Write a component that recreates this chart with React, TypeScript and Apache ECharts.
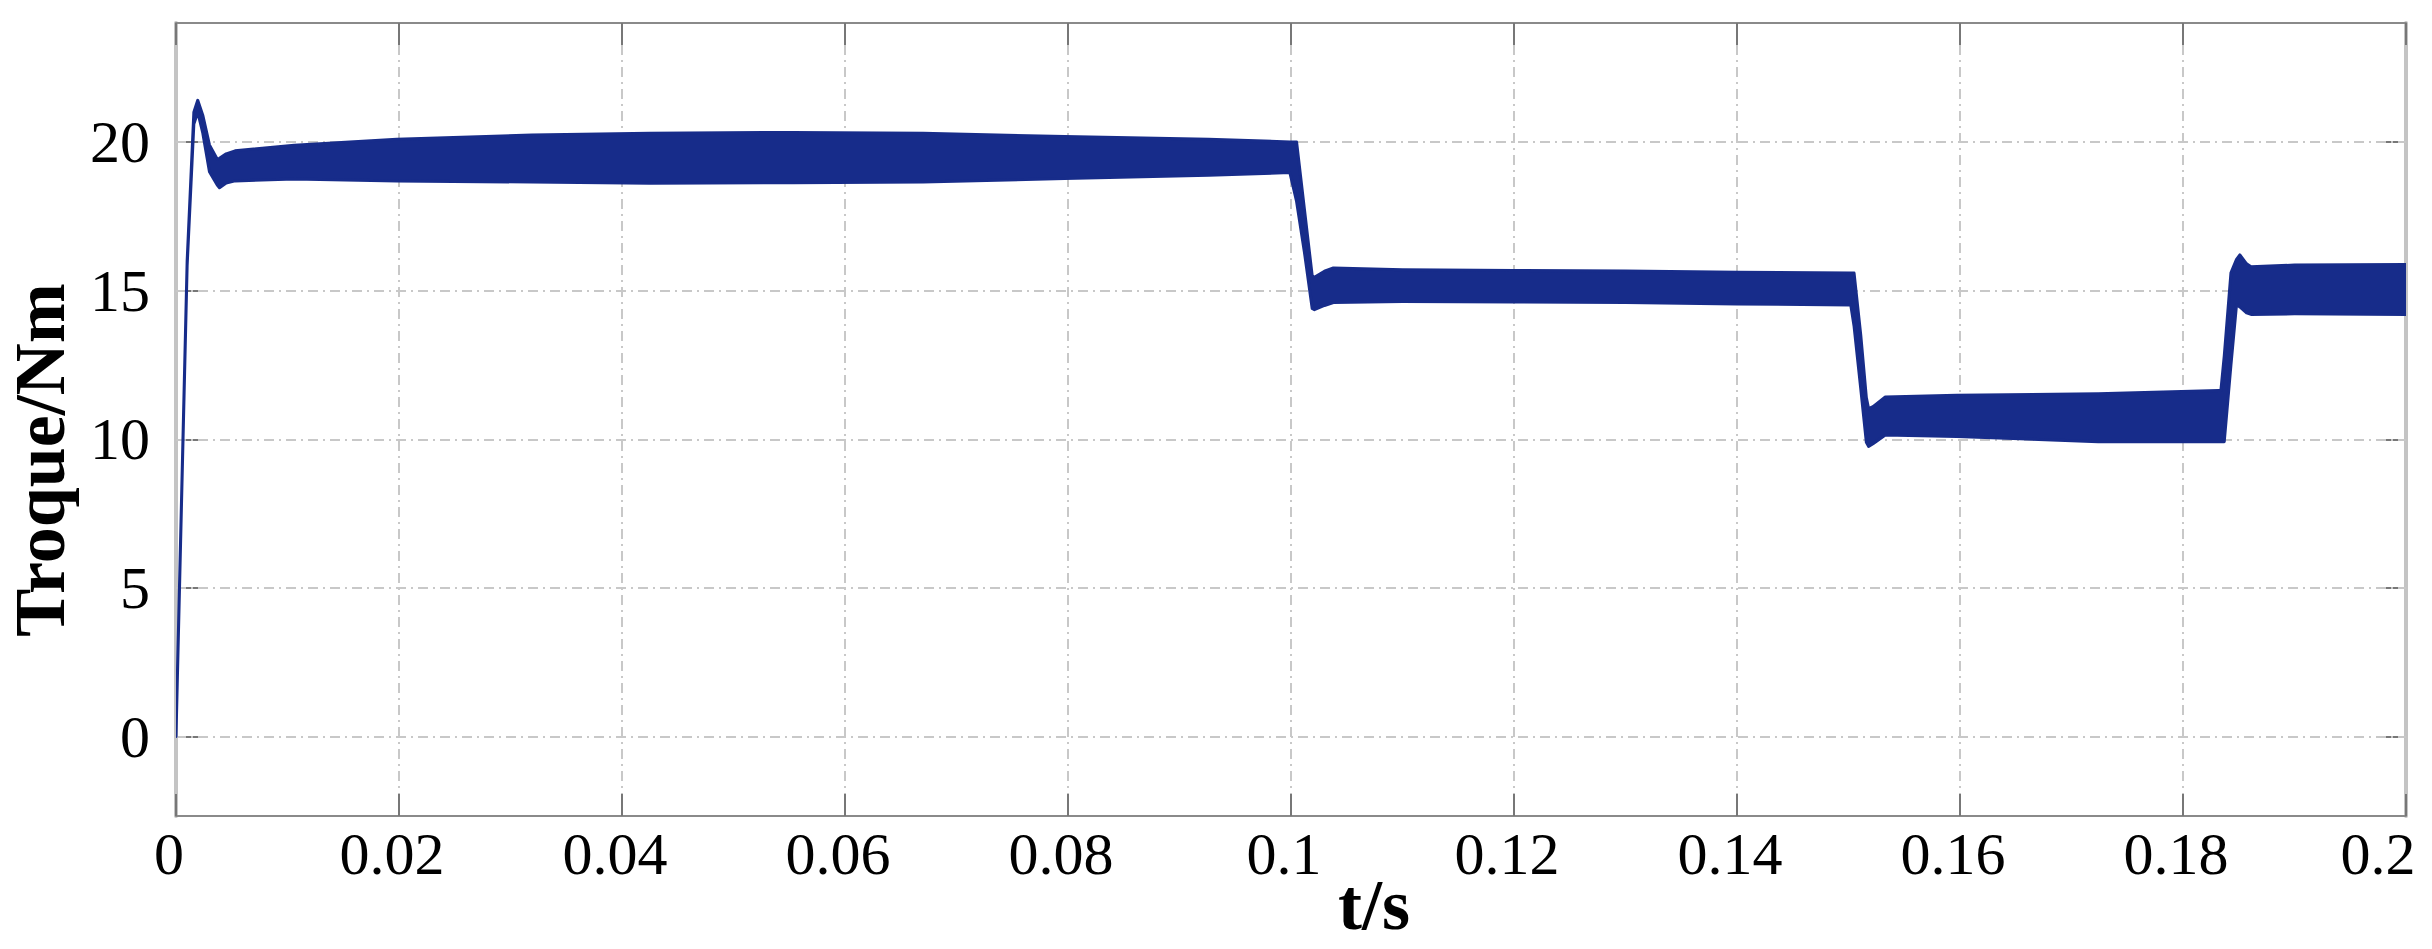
import React, { useEffect, useRef } from "react";
import * as echarts from "echarts";

// time (s)
const T = [
  0, 0.001, 0.0016, 0.00195, 0.0024, 0.003, 0.0037, 0.0039, 0.0045, 0.0053,
  0.0106, 0.0198, 0.0319, 0.0425, 0.0553, 0.067, 0.0797, 0.0926, 0.0999,
  0.1005, 0.1012, 0.1019, 0.1021, 0.103, 0.1038, 0.11, 0.12, 0.13, 0.14, 0.1502,
  0.1505, 0.1511, 0.1516, 0.1518, 0.1522, 0.1533, 0.1597, 0.1724, 0.1832,
  0.1834, 0.1837, 0.1843, 0.1848, 0.1851, 0.1857, 0.1861, 0.19, 0.2,
];
// upper envelope of the torque ripple band (Nm)
const UPPER = [
  0.1, 16.0, 21.0, 21.4, 20.9, 19.9, 19.42, 19.45, 19.6, 19.7,
  19.89, 20.09, 20.23, 20.29, 20.32, 20.29, 20.18, 20.09, 20.0,
  20.0, 17.75, 15.5, 15.45, 15.65, 15.76, 15.7, 15.68, 15.66, 15.62, 15.59,
  15.59, 13.5, 11.4, 11.03, 11.1, 11.42, 11.48, 11.53, 11.64,
  11.64, 12.8, 15.6, 16.05, 16.2, 15.9, 15.8, 15.86, 15.88,
];
// lower envelope of the torque ripple band (Nm)
const LOWER = [
  0, 15.85, 20.6, 21.0, 20.3, 19.0, 18.55, 18.46, 18.62, 18.69,
  18.75, 18.69, 18.65, 18.61, 18.63, 18.65, 18.77, 18.88, 18.97,
  18.0, 16.3, 14.4, 14.36, 14.5, 14.6, 14.63, 14.62, 14.6, 14.55, 14.52,
  13.8, 11.7, 9.9, 9.76, 9.85, 10.14, 10.09, 9.92, 9.92,
  9.92, 9.92, 12.5, 14.53, 14.45, 14.25, 14.2, 14.22, 14.2,
];

const X_TICKS_INTERVAL = 0.02;
const Y_TICKS = [0, 5, 10, 15, 20];
const X_NAME = "t/s";
const Y_NAME = "Troque/Nm";

const BLUE = "#172C8A";
const FONT = "'Liberation Serif', 'Times New Roman', serif";

export default function App() {
  const ref = useRef<HTMLDivElement>(null);

  useEffect(() => {
    if (!ref.current) return;
    const chart = echarts.init(ref.current, undefined, { renderer: "svg" });

    const bandData = T.map((t, i) => [t, UPPER[i], LOWER[i]]);
    const gridDash = [10, 5, 2, 5];

    const renderBand = (params: any, api: any) => {
      if (params.dataIndex !== 0) return null;
      const pts: number[][] = [];
      for (let i = 0; i < T.length; i++) pts.push(api.coord([T[i], UPPER[i]]));
      for (let i = T.length - 1; i >= 0; i--) pts.push(api.coord([T[i], LOWER[i]]));
      return {
        type: "polygon",
        shape: { points: pts },
        style: { fill: BLUE, stroke: BLUE, lineWidth: 3, lineJoin: "round" },
      };
    };

    const option: any = {
      animation: false,
      backgroundColor: "#ffffff",
      grid: { left: 176, right: 26, top: 23, bottom: 133, containLabel: false },
      xAxis: [
        {
          type: "value",
          min: 0,
          max: 0.2,
          interval: X_TICKS_INTERVAL,
          position: "bottom",
          axisLine: { show: true, onZero: false, lineStyle: { color: "#8a8a8a", width: 2 } },
          axisTick: { show: true, inside: true, length: 22, lineStyle: { color: "#777", width: 2 } },
          axisLabel: {
            show: true,
            margin: 8,
            color: "#000",
            fontSize: 60,
            fontFamily: FONT,
            formatter: (v: number) => {
              const s = String(+v.toFixed(4));
              return v >= 0.2 - 1e-9 ? `{m|${s}}` : `{n|${s}}`;
            },
            rich: {
              n: { fontSize: 60, fontFamily: FONT, color: "#000", padding: [0, 14, 0, 0] },
              m: { fontSize: 60, fontFamily: FONT, color: "#000", padding: [0, 56, 0, 0] },
            },
          },
          splitLine: { show: true, lineStyle: { color: "#c8c8c8", width: 2, type: gridDash } },
        },
        {
          type: "value",
          min: 0,
          max: 0.2,
          interval: X_TICKS_INTERVAL,
          position: "top",
          axisLine: { show: true, onZero: false, lineStyle: { color: "#8a8a8a", width: 2 } },
          axisTick: { show: true, inside: true, length: 22, lineStyle: { color: "#777", width: 2 } },
          axisLabel: { show: false },
          splitLine: { show: false },
        },
      ],
      yAxis: [
        {
          type: "value",
          min: -2.67,
          max: 24,
          position: "left",
          axisLine: { show: true, onZero: false, lineStyle: { color: "#c4c4c4", width: 4 } },
          axisTick: {
            show: true,
            inside: true,
            length: 22,
            customValues: Y_TICKS,
            lineStyle: { color: "#777", width: 2 },
          },
          axisLabel: {
            show: true,
            customValues: Y_TICKS,
            margin: 26,
            color: "#000",
            fontSize: 60,
            fontFamily: FONT,
          },
          splitLine: { show: false },
        },
        {
          type: "value",
          min: -2.67,
          max: 24,
          position: "right",
          axisLine: { show: true, onZero: false, lineStyle: { color: "#c4c4c4", width: 4 } },
          axisTick: {
            show: true,
            inside: true,
            length: 22,
            customValues: Y_TICKS,
            lineStyle: { color: "#777", width: 2 },
          },
          axisLabel: { show: false },
          splitLine: { show: false },
        },
      ],
      series: [
        {
          name: "grid",
          type: "line",
          xAxisIndex: 0,
          yAxisIndex: 0,
          data: [[0, 0]],
          showSymbol: false,
          symbol: "none",
          lineStyle: { opacity: 0 },
          z: 1,
          markLine: {
            silent: true,
            z: 1,
            symbol: "none",
            label: { show: false },
            lineStyle: { color: "#c8c8c8", width: 2, type: gridDash },
            data: Y_TICKS.map((v) => ({ yAxis: v })),
          },
        },
        {
          name: "torque",
          type: "custom",
          xAxisIndex: 0,
          yAxisIndex: 0,
          z: 10,
          clip: true,
          encode: { x: 0, y: [1, 2] },
          data: bandData,
          renderItem: renderBand,
        },
      ],
      graphic: [
        {
          type: "text",
          x: 1374,
          y: 905,
          style: {
            text: X_NAME,
            fontSize: 72,
            fontWeight: "bold",
            fontFamily: FONT,
            fill: "#000",
            align: "center",
            verticalAlign: "middle",
          },
        },
        {
          type: "text",
          x: 40,
          y: 460,
          rotation: Math.PI / 2,
          style: {
            text: Y_NAME,
            fontSize: 72,
            fontWeight: "bold",
            fontFamily: FONT,
            fill: "#000",
            align: "center",
            verticalAlign: "middle",
          },
        },
      ],
    };

    chart.setOption(option);
    return () => chart.dispose();
  }, []);

  return (
    <div
      ref={ref}
      style={{ position: "fixed", left: 0, top: 0, width: 2432, height: 949, background: "#fff" }}
    />
  );
}
